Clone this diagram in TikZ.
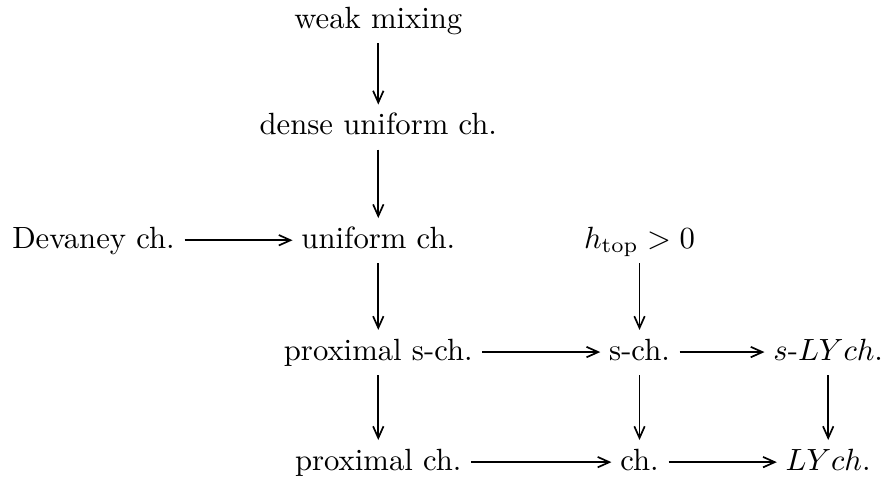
\documentclass[tikz,border=0pt]{standalone}
\usetikzlibrary{arrows.meta}
\begin{document}
\begin{tikzpicture}[every node/.style={black,text height=1.6ex,text depth=0.4ex,inner sep=1.5pt}, imp/.style={-{Straight Barb[length=3.8pt,width=3.4pt]},line width=0.55pt,shorten <=1.5pt,shorten >=1.2pt}]
	\useasboundingbox (0,0) rectangle (10.13,5.52);
%	columns 1.07, 4.33, 7.32, 9.46 -- rows 5.29, 4.03, 2.77, 1.49, 0.23
	\node (wm)    at (4.33,5.29) {weak mixing};
	\node (duc)   at (4.33,4.07) {dense uniform ch.};
	\node (dev)   at (1.07,2.77) {Devaney ch.};
	\node (uni)   at (4.33,2.77) {uniform ch.};
	\node (htop)  at (7.32,2.77) {$h_{\rm top}>0$};
	\node (psch)  at (4.33,1.49) {proximal s-ch.};
	\node (sch)   at (7.32,1.49) {s-ch.};
	\node (slych) at (9.48,1.49) {$s$-$LYch.$};
	\node (pch)   at (4.33,0.23) {proximal ch.};
	\node (ch)    at (7.32,0.23) {ch.};
	\node (lych)  at (9.48,0.23) {$LYch.$};

	\draw[imp] (wm) -- (duc);
	\draw[imp] (duc) -- (uni);
	\draw[imp] (dev) -- (uni);
	\draw[imp] (uni) -- (psch);
	\draw[imp] (htop) -- (sch);
	\draw[imp] (psch) -- (sch);
	\draw[imp] (sch) -- (slych);
	\draw[imp] (psch) -- (pch);
	\draw[imp] (sch) -- (ch);
	\draw[imp] (slych) -- (lych);
	\draw[imp] (pch) -- (ch);
	\draw[imp] (ch) -- (lych);
\end{tikzpicture}
\end{document}
